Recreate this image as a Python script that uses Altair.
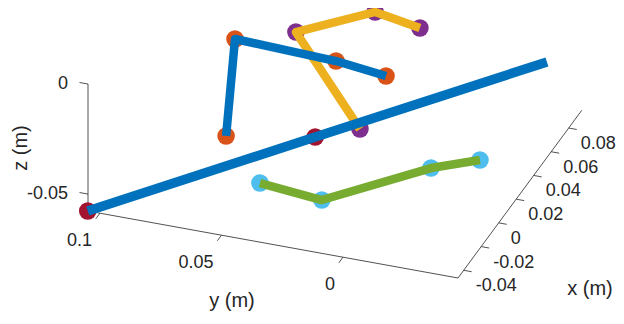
import altair as alt
import pandas as pd

# ---- axis limits (m) ----
XLIM = [-0.0465, 0.095]
YLIM = [-0.0473, 0.1049]
ZLIM = [-0.0577, 0.0]

x_ticks = [-0.04, -0.02, 0.0, 0.02, 0.04, 0.06, 0.08]
x_tick_labels = ["-0.04", "-0.02", "0", "0.02", "0.04", "0.06", "0.08"]
y_ticks = [0.0, 0.05, 0.1]
y_tick_labels = ["0", "0.05", "0.1"]
z_ticks = [-0.05, 0.0]
z_tick_labels = ["-0.05", "0"]

# ---- data (m) ----
# chain A: blue line, orange markers
a_x = [-0.0048, 0.0276, 0.0330, 0.0368]
a_y = [0.0631, 0.0711, 0.0315, 0.0123]
a_z = [-0.0377, -0.0127, -0.0177, -0.0227]
# chain B: yellow line, purple markers
b_x = [0.0020, 0.0328, 0.0502, 0.0525]
b_y = [0.0105, 0.0479, 0.0216, 0.0040]
b_z = [-0.0277, -0.0077, -0.0027, -0.0077]
# chain C: green line, light-blue markers
c_x = [-0.0189, -0.0232, 0.0071, 0.0197]
c_y = [0.0441, 0.0171, -0.0169, -0.0325]
c_z = [-0.0477, -0.0477, -0.0427, -0.0427]
# long line D: blue line, dark-red markers on the first two points
d_x = [-0.0465, 0.0148, 0.0771]
d_y = [0.1050, 0.0335, -0.0394]
d_z = [-0.0577, -0.0428, -0.0277]
d_marked = [True, True, False]

# ---- view (orthographic projection, screen px per metre) ----
P0 = (458, 278)
UX = (875.0, -1185.6)
UY = (-2431.0, -440.0)
UZ = (0.0, -2201.0)

FONT = "Liberation Sans"
TXT = "#262626"


def proj(fx, fy, fz, ox, oy):
    def e(i):
        return (f"{P0[i]} + {UX[i]}*(datum.{fx} - ({XLIM[0]})) + {UY[i]}*(datum.{fy} - ({YLIM[0]}))"
                f" + {UZ[i]}*(datum.{fz} - ({ZLIM[0]}))")
    return {ox: e(0), oy: e(1)}


XS = alt.Scale(domain=[8, 616], nice=False, zero=False)
YS = alt.Scale(domain=[8, 316], nice=False, zero=False, reverse=True)


def X(f):
    return alt.X(f"{f}:Q", scale=XS, axis=None)


def Y(f):
    return alt.Y(f"{f}:Q", scale=YS, axis=None)


# axis lines
axes_df = pd.DataFrame({
    "ax": [XLIM[0], XLIM[0], XLIM[0]],
    "ay": [YLIM[0], YLIM[0], YLIM[1]],
    "az": [ZLIM[0], ZLIM[0], ZLIM[0]],
    "bx": [XLIM[1], XLIM[0], XLIM[0]],
    "by": [YLIM[0], YLIM[1], YLIM[1]],
    "bz": [ZLIM[0], ZLIM[0], ZLIM[1]],
})

rows = []
for v in x_ticks:
    rows.append(dict(ax=v, ay=YLIM[0], az=ZLIM[0], bx=v, by=YLIM[0] - 0.0033, bz=ZLIM[0]))
for v in y_ticks:
    rows.append(dict(ax=XLIM[0], ay=v, az=ZLIM[0], bx=XLIM[0] - 0.0047, by=v, bz=ZLIM[0]))
for v in z_ticks:
    rows.append(dict(ax=XLIM[0], ay=YLIM[1], az=v, bx=XLIM[0], by=YLIM[1] + 0.0035, bz=v))
ticks_df = pd.DataFrame(rows)


def segs(df):
    return alt.Chart(df).transform_calculate(
        **proj("ax", "ay", "az", "sx", "sy")
    ).transform_calculate(
        **proj("bx", "by", "bz", "ex", "ey")
    ).mark_rule(color=TXT, strokeWidth=0.8).encode(
        x=X("sx"), y=Y("sy"), x2="ex:Q", y2="ey:Q"
    )


axes_layer = segs(axes_df)
ticks_layer = segs(ticks_df)

xl_df = pd.DataFrame({"x": x_ticks, "y": [YLIM[0]] * len(x_ticks), "z": [ZLIM[0]] * len(x_ticks), "t": x_tick_labels})
yl_df = pd.DataFrame({"x": [XLIM[0]] * len(y_ticks), "y": y_ticks, "z": [ZLIM[0]] * len(y_ticks), "t": y_tick_labels})
zl_df = pd.DataFrame({"x": [XLIM[0]] * len(z_ticks), "y": [YLIM[1]] * len(z_ticks), "z": z_ticks, "t": z_tick_labels})


def labels(df, align, dx, dy):
    return alt.Chart(df).transform_calculate(**proj("x", "y", "z", "sx", "sy")).mark_text(
        font=FONT, fontSize=18, color=TXT, align=align, baseline="middle", dx=dx, dy=dy
    ).encode(x=X("sx"), y=Y("sy"), text="t:N")


xlab = labels(xl_df, "left", 12, 16)
ylab = labels(yl_df, "right", -8, 28)
zlab = labels(zl_df, "right", -20, 0)

titles_df = pd.DataFrame({"sx": [590, 232, 21], "sy": [289, 301, 148], "t": ["x (m)", "y (m)", "z (m)"],
                          "a": [0, 0, 270]})
titles = alt.Chart(titles_df).mark_text(
    font=FONT, fontSize=20, color=TXT, align="center", baseline="middle"
).encode(x=X("sx"), y=Y("sy"), text="t:N", angle=alt.Angle("a:Q", scale=None))


def chain_df(xs, ys, zs):
    return pd.DataFrame({"x": xs, "y": ys, "z": zs, "i": list(range(len(xs)))})


def points(df, color):
    return alt.Chart(df).transform_calculate(**proj("x", "y", "z", "sx", "sy")).mark_circle(
        size=310, color=color, opacity=1
    ).encode(x=X("sx"), y=Y("sy"))


def line(df, color, w=8.5):
    return alt.Chart(df).transform_calculate(**proj("x", "y", "z", "sx", "sy")).mark_line(
        color=color, strokeWidth=w, strokeCap="butt", strokeJoin="round"
    ).encode(x=X("sx"), y=Y("sy"), order="i:Q")


A = chain_df(a_x, a_y, a_z)
B = chain_df(b_x, b_y, b_z)
C = chain_df(c_x, c_y, c_z)
D = chain_df(d_x, d_y, d_z)
Dm = D[pd.Series(d_marked)]

chart = alt.layer(
    axes_layer, ticks_layer, xlab, ylab, zlab, titles,
    points(A, "#D95319"), points(B, "#7E2F8E"), points(C, "#4DBEEE"), points(Dm, "#A2142F"),
    line(B, "#EDB120"), line(C, "#77AC30"), line(A, "#0072BD"), line(D, "#0072BD", 9.5),
).properties(
    width=608, height=308, padding=0, autosize=alt.AutoSizeParams(type="none"),
    background="white"
).configure_view(stroke=None)

chart.save("out.html", embed_options={"renderer": "svg", "actions": False})
